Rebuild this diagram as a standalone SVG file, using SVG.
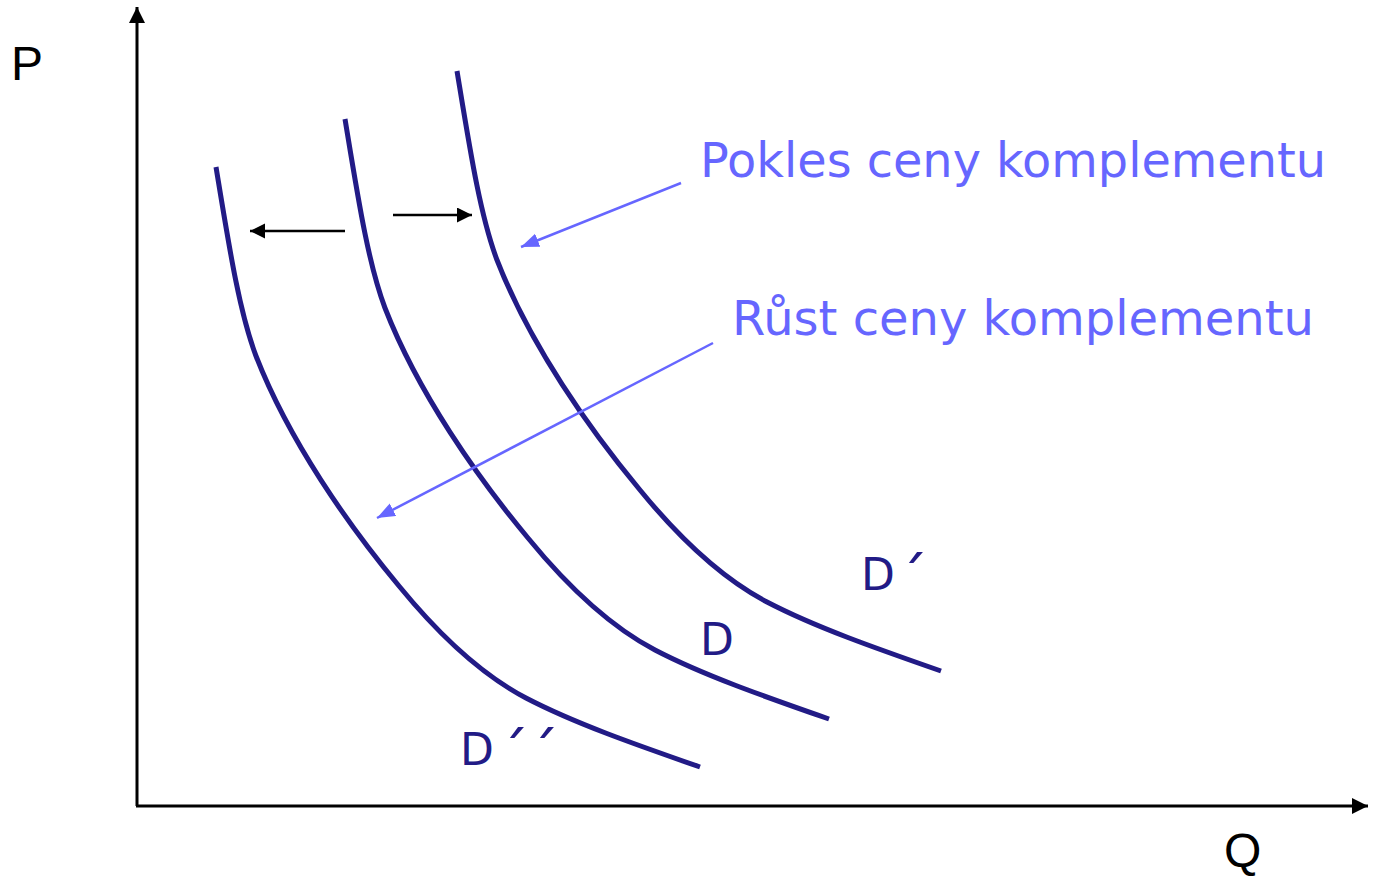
<svg xmlns="http://www.w3.org/2000/svg" xmlns:xlink="http://www.w3.org/1999/xlink" width="1373" height="877" viewBox="0 0 1373 877">
<style>
.axis{stroke:#000;stroke-width:3;fill:none}
.shift{stroke:#000;stroke-width:2.5;fill:none}
.curve{stroke:#221b86;stroke-width:5;fill:none}
.call{stroke:#6666ff;stroke-width:2.5;fill:none}
.lbl{font-family:"DejaVu Sans",Verdana,sans-serif;font-size:44px;fill:#221b86}
.acc{font-size:60px}
.note{font-family:"DejaVu Sans",Verdana,sans-serif;font-size:48px;fill:#6666ff}
.ax{font-family:"Liberation Sans",Arial,sans-serif;font-size:48px;fill:#000}
</style>
<defs>
<marker id="ah" markerUnits="userSpaceOnUse" markerWidth="17" markerHeight="17" refX="16" refY="8" orient="auto"><path d="M0,0 L16,8 L0,16 Z" fill="#000"/></marker>
<marker id="sh" markerUnits="userSpaceOnUse" markerWidth="16" markerHeight="16" refX="15" refY="7.5" orient="auto"><path d="M0,0 L15,7.5 L0,15 Z" fill="#000"/></marker>
<marker id="bh" markerUnits="userSpaceOnUse" markerWidth="19" markerHeight="16" refX="18" refY="7" orient="auto"><path d="M0,0 L18,7 L0,14 Z" fill="#6666ff"/></marker>
<path id="dcurve" d="M457,71 C470,150 480,215 497,260 C530,345 590,430 640,490 C685,545 725,580 767,602 C815,627 875,648 941,671"/>
</defs>
<g id="axes">
<line class="axis" x1="137" y1="806" x2="137" y2="7" marker-end="url(#ah)"/>
<line class="axis" x1="136" y1="806" x2="1368" y2="806" marker-end="url(#ah)"/>
<text class="ax" x="11" y="80">P</text>
<text class="ax" x="1224" y="867">Q</text>
</g>
<g id="curve-D-prime">
<use xlink:href="#dcurve" class="curve"/>
<text class="lbl" x="861" y="590">D<tspan class="acc" dx="3" dy="10">´</tspan></text>
</g>
<g id="curve-D">
<use xlink:href="#dcurve" class="curve" transform="translate(-112,48)"/>
<text class="lbl" x="700" y="655">D</text>
</g>
<g id="curve-D-double-prime">
<use xlink:href="#dcurve" class="curve" transform="translate(-241,96)"/>
<text class="lbl" x="460" y="765">D<tspan class="acc" dx="5" dy="10">´</tspan><tspan class="acc" dx="0">´</tspan></text>
</g>
<g id="label-pokles">
<text class="note" x="700" y="177" textLength="626" lengthAdjust="spacingAndGlyphs">Pokles ceny komplementu</text>
</g>
<g id="label-rust">
<text class="note" x="732" y="335" textLength="582" lengthAdjust="spacingAndGlyphs">Růst ceny komplementu</text>
</g>
<g id="connectors">
<line class="shift" x1="345" y1="231" x2="250" y2="231" marker-end="url(#sh)"/>
<line class="shift" x1="393" y1="215" x2="472" y2="215" marker-end="url(#sh)"/>
<line class="call" x1="681" y1="183" x2="521" y2="247" marker-end="url(#bh)"/>
<line class="call" x1="713" y1="343" x2="377" y2="518" marker-end="url(#bh)"/>
</g>
</svg>
